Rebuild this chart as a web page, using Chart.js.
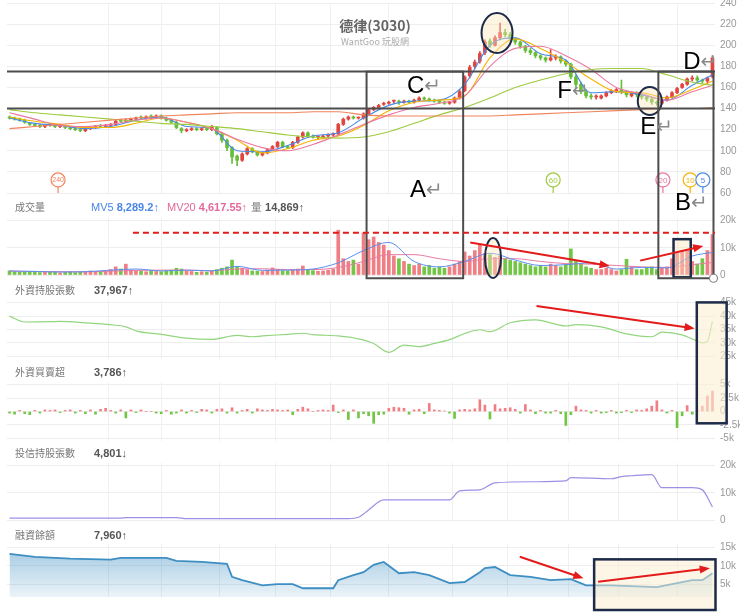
<!DOCTYPE html>
<html>
<head>
<meta charset="utf-8">
<script src="https://cdn.jsdelivr.net/npm/chart.js@4.4.1/dist/chart.umd.min.js"></script>
<style>
  body { margin: 0; background: #fff; }
  #wrap { position: relative; width: 740px; height: 615px; overflow: hidden; font-family: "Noto Sans CJK TC", "Liberation Sans", sans-serif; }
  #wrap canvas { position: absolute; left: 0; }
  .hd { position: absolute; left: 15px; font-size: 10px; color: #777; line-height: 14px; z-index: 3; white-space: nowrap; }
  .val { position: absolute; font: bold 11px "Liberation Sans", sans-serif; color: #555; line-height: 14px; z-index: 3; white-space: nowrap; }
  .val span { font-weight: normal; }
  .title { position: absolute; left: 300px; width: 150px; text-align: center; z-index: 3; white-space: nowrap; }
</style>
</head>
<body>
<div id="wrap">
  <canvas id="price" width="740" height="200" style="top:0px"></canvas>
  <canvas id="volume" width="740" height="68" style="top:212px"></canvas>
  <canvas id="fhold" width="740" height="66" style="top:296px"></canvas>
  <canvas id="fnet" width="740" height="66" style="top:378px"></canvas>
  <canvas id="trust" width="740" height="64" style="top:459px"></canvas>
  <canvas id="margin" width="740" height="60" style="top:540px"></canvas>

  <div class="title" style="top:15px;font-weight:bold;font-size:14px;color:#666;">德律(3030)</div>
  <div class="title" style="top:35px;font-size:9px;color:#aaa;">WantGoo 玩股網</div>

  <div class="hd" style="top:200px">成交量</div>
  <div class="val" style="top:200px;left:91px;color:#4a86e8"><span>MV5</span> 8,289.2↑</div>
  <div class="val" style="top:200px;left:167px;color:#e2699a"><span>MV20</span> 4,617.55↑</div>
  <div class="val" style="top:200px;left:251px;color:#555"><span style="color:#777">量</span> 14,869↑</div>

  <div class="hd" style="top:283px">外資持股張數</div>
  <div class="val" style="top:283px;left:94px">37,967↑</div>
  <div class="hd" style="top:365px">外資買賣超</div>
  <div class="val" style="top:365px;left:94px">3,786↑</div>
  <div class="hd" style="top:446px">投信持股張數</div>
  <div class="val" style="top:446px;left:94px">4,801↓</div>
  <div class="hd" style="top:528px">融資餘額</div>
  <div class="val" style="top:528px;left:94px">7,960↑</div>

  <canvas id="overlay" style="top:0px;z-index:5"></canvas>
</div>
<script>
const N = 140;

// daily candles (price)
const OPEN = [
  132,131,130,129,126,125,124,123,125,124,
  123,123,122,121,120,119,121,122,124,123,
  124,125,129,128,129,130,132,131,133,132,
  133,131,129,127,121,119,120,121,120,121,
  120,122,116,110,103,95,91,97,102,99,
  96,98,101,104,108,104,103,108,113,117,
  114,113,113,114,115,116,125,130,132,131,
  131,135,139,141,144,145,147,147,146,147,
  146,148,150,149,148,147,146,145,146,150,
  157,171,180,185,193,204,200,207,212,210,
  206,203,199,195,193,190,188,186,188,189,
  185,182,170,163,156,152,151,150,152,155,
  157,158,156,152,155,153,151,149,146,145,
  148,151,155,160,163,168,169,167,166,170];
const HIGH = [
  133,132,131,130,127,126,125,125,126,125,
  125,124,123,122,121,122,123,124,125,125,
  126,129,130,130,131,132,133,133,134,134,
  134,132,130,128,122,121,122,122,122,122,
  124,123,117,111,104,96,98,103,103,100,
  99,102,105,109,109,105,109,114,118,118,
  115,114,115,116,117,126,131,133,133,132,
  136,140,142,144,146,147,148,148,148,148,
  149,151,151,150,149,148,147,147,151,158,
  171,181,186,194,205,206,209,221,215,212,
  207,204,200,197,194,191,189,196,191,190,
  186,183,172,165,158,154,153,153,156,158,
  159,167,157,156,156,154,152,150,147,149,
  152,156,160,164,169,171,171,168,170,190];
const LOW = [
  130,129,128,126,124,123,122,122,123,122,
  122,121,120,119,118,118,120,121,122,122,
  123,124,127,127,128,129,130,130,131,131,
  130,128,126,121,117,118,119,119,119,119,
  119,115,108,100,88,86,90,96,98,95,
  95,97,100,103,103,102,102,107,112,113,
  112,111,112,113,114,115,124,129,130,130,
  130,134,138,140,143,144,145,144,145,145,
  145,147,148,147,146,145,144,144,145,149,
  156,169,178,183,191,198,199,205,208,204,
  201,197,193,191,188,186,184,185,186,183,
  180,168,160,154,150,149,149,149,151,154,
  155,154,151,151,151,149,147,144,143,144,
  147,150,154,159,162,166,165,164,164,169];
const CLOSE = [
  131,130,129,127,125,124,123,124,124,123,
  124,122,121,120,119,121,122,123,123,124,
  125,128,128,129,130,131,131,132,132,133,
  131,129,127,122,119,120,121,120,121,120,
  123,116,110,103,94,91,97,102,99,96,
  98,101,104,108,104,103,108,113,117,114,
  113,113,114,115,116,125,130,132,131,131,
  135,139,141,143,145,146,147,146,147,146,
  148,150,149,148,147,146,145,146,150,156,
  170,179,184,192,203,200,207,212,210,206,
  203,199,195,193,190,188,186,188,189,185,
  182,170,163,156,152,151,151,152,155,157,
  158,156,153,155,153,151,149,146,145,148,
  151,155,159,163,168,169,167,166,169,188];

// moving averages read every 5 days (plus the last day)
const MA_DAYS = [];
for (let i = 0; i < N - 4; i += 5) MA_DAYS.push(i);
MA_DAYS.push(N - 1);
const MA5   = [131,126,124,121,123,129,132,123,121,100,99,105,114,117,131,143,147,148,163,200,207,192,186,155,156,153,148,162,172];
const MA10  = [132,128,125,122,122,126,131,127,121,110,98,102,110,114,124,138,146,148,152,188,206,197,184,168,156,155,150,158,166];
const MA20  = [136,130,124,123,125,129,131,127,121,111,103,100,106,115,125,134,141,145,152,180,197,199,190,177,160,154,148,156,162];
const MA60  = [139,136,134,132,130,128,126,125,123,121,118,115,113,112,113,118,126,134,141,150,160,167,173,177,178,178,172,165,162];
const MA240 = [121,123,125,127,129,131,133,134,135,136,136,136,137,137,134,133,133,133,133,133,134,135,136,137,138,139,140,140,141];

// volume, thousand lots
const VOLUME_K = [
  1.5,1.2,1.0,1.3,1.1,1.4,0.9,1.2,1.0,1.1, 0.8,1.0,1.2,0.9,1.1,1.3,1.5,1.2,1.0,1.4,
  2.0,3.0,2.2,4.0,1.8,1.5,1.4,1.2,1.6,1.3, 1.2,1.5,1.8,2.5,2.2,1.4,1.3,1.0,1.2,1.1,
  1.5,2.0,2.5,3.0,5.5,3.0,2.5,2.0,1.5,1.4, 1.3,1.8,2.6,2.0,1.6,1.5,1.8,2.2,3.3,2.0,
  1.6,1.4,1.5,1.8,2.2,16.5,6.0,5.0,5.5,4.0, 15.5,13.0,14.0,12.0,11.0,9.0,7.0,6.0,5.0,4.0,
  3.5,4.0,3.0,3.5,2.5,3.0,2.5,3.0,4.0,5.0, 8.5,7.0,9.0,11.0,8.0,7.5,6.5,7.0,6.0,5.5,
  5.0,4.5,4.0,3.5,3.0,3.5,3.0,4.0,3.5,3.0, 4.0,9.6,5.0,4.0,3.0,2.5,2.0,2.0,2.5,2.0,
  1.5,2.0,5.8,3.0,2.0,2.0,2.5,3.0,2.0,2.5, 3.0,6.0,8.5,9.0,9.3,5.0,4.0,6.0,9.0,14.9];
const VOL_MV5  = [1.5,1.3,1.1,1.2,1.8,2.2,1.5,1.8,1.5,3.2,1.7,1.8,2.2,4.5,9,12,5,3,5,8,5.5,3.5,3.8,4.5,2.2,2.8,2.6,7,8.3];
const VOL_MV20 = [1.4,1.3,1.2,1.2,1.4,1.7,1.8,1.8,1.6,2.2,2.3,2.0,2.0,2.8,5,7.5,7.5,6,5,6,6,5,4.2,4,3.5,3,2.8,3.8,4.6];

// foreign investors holdings (k lots)
const FH_DAYS = [0,3,8,10,15,20,23,25,30,35,40,45,48,50,55,58,60,65,69,72,75,78,81,84,87,90,93,95,99,104,110,112,117,122,127,129,133,135,137,138,139];
const FH_VALS = [40,37.8,37.9,38,37.5,36.8,36,34.5,33.2,31.8,31.3,32.8,32.3,32.6,33.2,33.6,33.1,32.6,31.5,29.8,26.5,29.2,28.6,29.8,31.2,33.5,34.9,34.2,37.5,38.6,36.3,36.8,36,33.4,32.3,34,33,31.5,30,30.6,38];

// foreign net buy/sell (k lots)
const FNET_K = [
  -0.3,-0.5,0.2,-0.4,-0.6,0.2,-0.3,0.3,0.2,0.3, -0.2,0.2,0.3,-0.3,0.2,-0.4,0.3,-0.5,0.4,0.6,
  0.2,-0.3,0.3,-1.2,0.3,-0.2,0.3,0,0,-0.3, -0.4,0.2,-0.5,-0.3,0.3,-0.3,0.2,-0.2,0.4,0.3,
  -0.3,0.4,0.5,-0.3,0.7,-0.3,0.2,0.4,-0.3,0.5, 0.3,0.2,0.4,0.3,0.2,0.3,-0.6,0.4,0.8,0.5,
  0,0.2,0.3,0.2,1.2,-0.2,0.3,-1.5,0.3,-1.2, -0.4,-0.8,-2.2,-0.6,-0.5,0.6,0.8,0.7,0.6,-0.5,
  0.3,0.4,-0.4,1.5,0.3,0.2,0.1,-0.3,-1.3,0.3, 0.4,0.3,0.5,2.2,1.2,-1.4,1.3,0.5,0.6,0.7,
  0.4,-0.3,1.3,0.3,-0.4,0.2,-0.3,-0.3,0.2,-0.4, -2.6,-0.6,1.0,0.3,0.2,-0.3,0.2,-0.3,-0.2,0.2,
  -0.3,-0.2,0.2,-0.2,0.3,0.2,0.5,1.0,2.0,0.3, -0.3,0.2,-3.0,-0.8,1.1,-0.5,0.3,1.0,2.9,3.8];

// investment trust holdings (k lots)
const TR_DAYS = [0,22,23,33,35,67,69,71,74,87,89,93,96,104,110,111,119,121,123,127,129,135,137,139];
const TR_VALS = [0.7,0.7,0.9,0.9,0.5,0.5,1.0,3.7,7.4,7.4,10.7,11.1,13.7,14.1,14.4,15.6,15.2,16.0,16.3,16.7,11.9,11.9,11.1,4.8];

// margin balance (k lots)
const MG_DAYS = [0,5,12,20,22,31,33,38,43,44,46,50,53,56,58,64,65,68,70,72,74,77,80,83,87,90,93,94,96,99,103,107,111,114,119,128,133,135,137,139];
const MG_VALS = [13.3,12.5,12,11.7,12.2,12.2,11.4,11.1,10.6,7,6.1,4.7,5,5,3.9,3.9,6.1,7.5,8.3,10.3,11.1,8,8.3,7.5,5.3,5.6,8.3,9.4,9.7,7.5,7,6.1,6.4,4.7,4.7,4.2,5.6,6.1,6.1,8];

// axis ticks
const PRICE_TICKS = [60,80,100,120,140,160,180,200,220,240];
const VOL_TICKS = [0,10,20];
const FH_TICKS = [25,30,35,40,45];
const FNET_TICKS = [-5,-2.5,0,2.5,5];
const TR_TICKS = [0,10,20];
const MG_TICKS = [5,10,15];
const MONTH_LINES = [19.5,30,41.5,52.5,63.5,75,87.5,98.5,110.5,120.5,132];

const UP = '#e2443f', DOWN = '#66bd38';
const UP_VOL = '#ef7f84', DOWN_VOL = '#72c545';
const DAYS = CLOSE.map((_, i) => i);
const isUp = DAYS.map(i => CLOSE[i] >= OPEN[i]);
const candleCol = isUp.map(u => u ? UP : DOWN);
const volCol = isUp.map(u => u ? UP_VOL : DOWN_VOL);
const kfmt = v => v === 0 ? '0' : v + 'k';

function xAxis() {
  return {
    type: 'linear', min: -0.5, max: N - 0.5, offset: false,
    border: {display: false},
    ticks: {display: false},
    grid: {color: '#f0f0f0', drawTicks: false, offset: false},
    afterBuildTicks: s => { s.ticks = MONTH_LINES.map(v => ({value: v})); }
  };
}

function yAxis(min, max, ticks, fmt) {
  return {
    position: 'right', min: min, max: max,
    border: {display: false},
    grid: {color: '#eeeeee', drawTicks: false},
    ticks: {color: '#999', padding: 5, autoSkip: false, font: {size: 10, family: '"Liberation Sans", sans-serif'}, callback: fmt},
    afterBuildTicks: s => { s.ticks = ticks.map(v => ({value: v})); },
    afterFit: s => { s.width = 25; s.paddingTop = 0; s.paddingBottom = 0; }
  };
}

function opts(padTop, padBottom, y) {
  return {
    responsive: false, animation: false, events: [],
    layout: {autoPadding: false, padding: {left: 7, right: 0, top: padTop, bottom: padBottom}},
    plugins: {legend: {display: false}, tooltip: {enabled: false}},
    scales: {x: xAxis(), y: y}
  };
}

function line(days, vals, color, width) {
  return {
    type: 'line', data: days.map((d, k) => ({x: d, y: vals[k]})),
    borderColor: color, borderWidth: width, pointRadius: 0, pointHoverRadius: 0,
    cubicInterpolationMode: 'monotone', fill: false, order: 0
  };
}

const panels = {};
function mk(id, top, cfg) {
  const chart = new Chart(document.getElementById(id), cfg);
  panels[id] = {chart: chart, top: top};
}

// price + moving averages
mk('price', 0, {
  type: 'bar',
  data: {datasets: [
    line(MA_DAYS, MA240, '#f2845c', 1.1),
    line(MA_DAYS, MA60, '#9dcb3e', 1.1),
    line(MA_DAYS, MA20, '#ea78a0', 1.1),
    line(MA_DAYS, MA10, '#f5b400', 1.1),
    line(MA_DAYS, MA5, '#4a8ae6', 1.1),
    {data: DAYS.map(i => ({x: i, y: [Math.min(OPEN[i], CLOSE[i]), Math.max(OPEN[i], CLOSE[i])]})),
     backgroundColor: candleCol, barThickness: 3, minBarLength: 1, grouped: false, order: 2},
    {data: DAYS.map(i => ({x: i, y: [LOW[i], HIGH[i]]})),
     backgroundColor: candleCol, barThickness: 1, grouped: false, order: 3}
  ]},
  options: opts(3, 7, yAxis(60, 240, PRICE_TICKS, v => v))
});

// volume
mk('volume', 212, {
  type: 'bar',
  data: {datasets: [
    line(MA_DAYS, VOL_MV5, '#5b8ff0', 1),
    line(MA_DAYS, VOL_MV20, '#e77ba6', 1),
    {data: DAYS.map(i => ({x: i, y: VOLUME_K[i]})), backgroundColor: volCol,
     barThickness: 3, grouped: false, order: 2}
  ]},
  options: opts(6, 5, yAxis(0, 21, VOL_TICKS, kfmt))
});

// foreign holdings
mk('fhold', 296, {
  type: 'line',
  data: {datasets: [line(FH_DAYS, FH_VALS, '#93d67f', 1.2)]},
  options: opts(4, 3, yAxis(24, 46, FH_TICKS, kfmt))
});

// foreign net buy / sell
mk('fnet', 378, {
  type: 'bar',
  data: {datasets: [
    {data: DAYS.map(i => ({x: i, y: FNET_K[i]})),
     backgroundColor: FNET_K.map(v => v >= 0 ? UP_VOL : DOWN_VOL), barThickness: 2, grouped: false}
  ]},
  options: opts(4, 3, yAxis(-5.5, 5.5, FNET_TICKS, kfmt))
});

// investment trust holdings
mk('trust', 459, {
  type: 'line',
  data: {datasets: [line(TR_DAYS, TR_VALS, '#9d8fe6', 1.2)]},
  options: opts(4, 3, yAxis(0, 21, TR_TICKS, kfmt))
});

// margin balance
const marginSet = line(MG_DAYS, MG_VALS, '#3d8ec2', 1.8);
marginSet.cubicInterpolationMode = 'default';
marginSet.fill = 'start';
marginSet.backgroundColor = ctx => {
  const a = ctx.chart.chartArea;
  if (!a) return 'rgba(61,142,194,0.3)';
  const grad = ctx.chart.ctx.createLinearGradient(0, a.top, 0, a.bottom);
  grad.addColorStop(0, 'rgba(61,142,194,0.5)');
  grad.addColorStop(1, 'rgba(61,142,194,0.1)');
  return grad;
};
mk('margin', 540, {
  type: 'line',
  data: {datasets: [marginSet]},
  options: opts(4, 3, yAxis(1.5, 16, MG_TICKS, kfmt))
});

// hand-drawn style markup on top of the panels
function drawOverlay() {
  const cv = document.getElementById('overlay');
  const dpr = window.devicePixelRatio || 1;
  cv.width = 740 * dpr; cv.height = 615 * dpr;
  cv.style.width = '740px'; cv.style.height = '615px';
  const g = cv.getContext('2d');
  g.scale(dpr, dpr);
  const at = (id, x, y) => [panels[id].chart.scales.x.getPixelForValue(x), panels[id].top + panels[id].chart.scales.y.getPixelForValue(y)];
  const CREAM = 'rgba(250,228,185,0.42)', NAVY = '#1d2a48', GREY = '#4d4d4d', RED = '#e31b1b';

  function rect(a, b, stroke, width, fill) {
    const x = Math.min(a[0], b[0]), y = Math.min(a[1], b[1]);
    const w = Math.abs(b[0] - a[0]), h = Math.abs(b[1] - a[1]);
    if (fill) { g.fillStyle = fill; g.fillRect(x, y, w, h); }
    g.setLineDash([]); g.strokeStyle = stroke; g.lineWidth = width; g.strokeRect(x, y, w, h);
  }
  function seg(a, b, color, width, dash) {
    g.setLineDash(dash || []); g.strokeStyle = color; g.lineWidth = width;
    g.beginPath(); g.moveTo(a[0], a[1]); g.lineTo(b[0], b[1]); g.stroke();
    g.setLineDash([]);
  }
  function arrow(a, b) {
    const ang = Math.atan2(b[1] - a[1], b[0] - a[0]), head = 11;
    seg(a, [b[0] - head * 0.8 * Math.cos(ang), b[1] - head * 0.8 * Math.sin(ang)], RED, 2);
    g.fillStyle = RED;
    g.beginPath(); g.moveTo(b[0], b[1]);
    g.lineTo(b[0] - head * Math.cos(ang - 0.38), b[1] - head * Math.sin(ang - 0.38));
    g.lineTo(b[0] - head * Math.cos(ang + 0.38), b[1] - head * Math.sin(ang + 0.38));
    g.closePath(); g.fill();
  }
  function ellipse(c, rx, ry) {
    g.beginPath(); g.ellipse(c[0], c[1], rx, ry, 0, 0, 2 * Math.PI);
    g.fillStyle = CREAM; g.fill();
    g.strokeStyle = NAVY; g.lineWidth = 2; g.stroke();
  }
  function tag(p, letter) {
    g.textBaseline = 'middle'; g.textAlign = 'left';
    g.font = '24px "Liberation Sans", sans-serif'; g.fillStyle = '#000';
    g.fillText(letter, p[0], p[1]);
    const w = g.measureText(letter).width;
    g.font = '20px "DejaVu Sans", sans-serif'; g.fillStyle = '#8a8a8a';
    g.fillText('↵', p[0] + w, p[1] + 1);
  }
  function maMark(p, label, color) {
    seg([p[0], p[1] + 7], [p[0], p[1] + 13], color, 1.2);
    g.beginPath(); g.arc(p[0], p[1], 7, 0, 2 * Math.PI);
    g.fillStyle = '#fff'; g.fill();
    g.strokeStyle = color; g.lineWidth = 1.2; g.stroke();
    g.fillStyle = color; g.textAlign = 'center'; g.textBaseline = 'middle';
    g.font = (label.length > 2 ? '7px' : '8px') + ' "Liberation Sans", sans-serif';
    g.fillText(label, p[0], p[1] + 0.5);
  }

  // moving average start markers
  maMark(at('price', 9.6, 72.4), '240', '#f2845c');
  maMark(at('price', 107.5, 72.4), '60', '#9dcb3e');
  maMark(at('price', 129.2, 72.4), '20', '#ea78a0');
  maMark(at('price', 134.6, 72.4), '10', '#f5b400');
  maMark(at('price', 137.1, 72.4), '5', '#4a8ae6');

  // highlighted zones
  ellipse(at('price', 96.4, 211.6), 15.5, 20);
  ellipse(at('price', 126.6, 147.2), 12, 14);
  ellipse(at('volume', 95.6, 6.3), 8, 20);
  rect(at('volume', 131.3, 13.2), at('volume', 134.7, -0.85), NAVY, 2.5, CREAM);
  rect(at('fhold', 135.9, 45.1), [at('fhold', 141.8, 0)[0], at('fnet', 0, -2.2)[1]], NAVY, 2.5, 'rgba(252,240,212,0.6)');
  rect(at('margin', 115.6, 11.8), at('margin', 139.6, -2.06), NAVY, 2.5, 'rgba(252,238,205,0.5)');

  // support / resistance lines and boxes
  seg(at('price', -0.5, 175), at('price', 139.5, 175), GREY, 2);
  seg(at('price', -0.5, 140), at('price', 139.5, 140), GREY, 2);
  rect(at('price', 70.6, 175), at('volume', 89.7, -1.2), GREY, 2);
  rect(at('price', 128.3, 175), at('volume', 139.2, -1.2), GREY, 2);
  seg(at('volume', 24.4, 15.6), at('volume', 139.5, 15.6), RED, 2, [6, 4]);

  const c = at('volume', 139.2, -1.2);
  g.beginPath(); g.arc(c[0], c[1], 4, 0, 2 * Math.PI);
  g.fillStyle = '#fff'; g.fill(); g.strokeStyle = '#888'; g.lineWidth = 1.2; g.stroke();

  // trend arrows
  arrow(at('volume', 91.1, 12.0), at('volume', 118.7, 3.3));
  arrow(at('volume', 124.7, 5.3), at('volume', 137.2, 10.7));
  arrow(at('fhold', 104.2, 43.8), at('fhold', 135.5, 35.4));
  arrow(at('margin', 100.9, 12.5), at('margin', 113.5, 6.6));
  arrow(at('margin', 116.4, 5.7), at('margin', 138.5, 9.35));

  // letter labels
  tag(at('price', 78.6, 161.4), 'C');
  tag(at('price', 108.3, 156.7), 'F');
  tag(at('price', 124.7, 122.6), 'E');
  tag(at('price', 133.2, 184.1), 'D');
  tag(at('price', 79.2, 62.9), 'A');
  tag(at('price', 131.6, 50.6), 'B');
}
drawOverlay();
</script>
</body>
</html>
